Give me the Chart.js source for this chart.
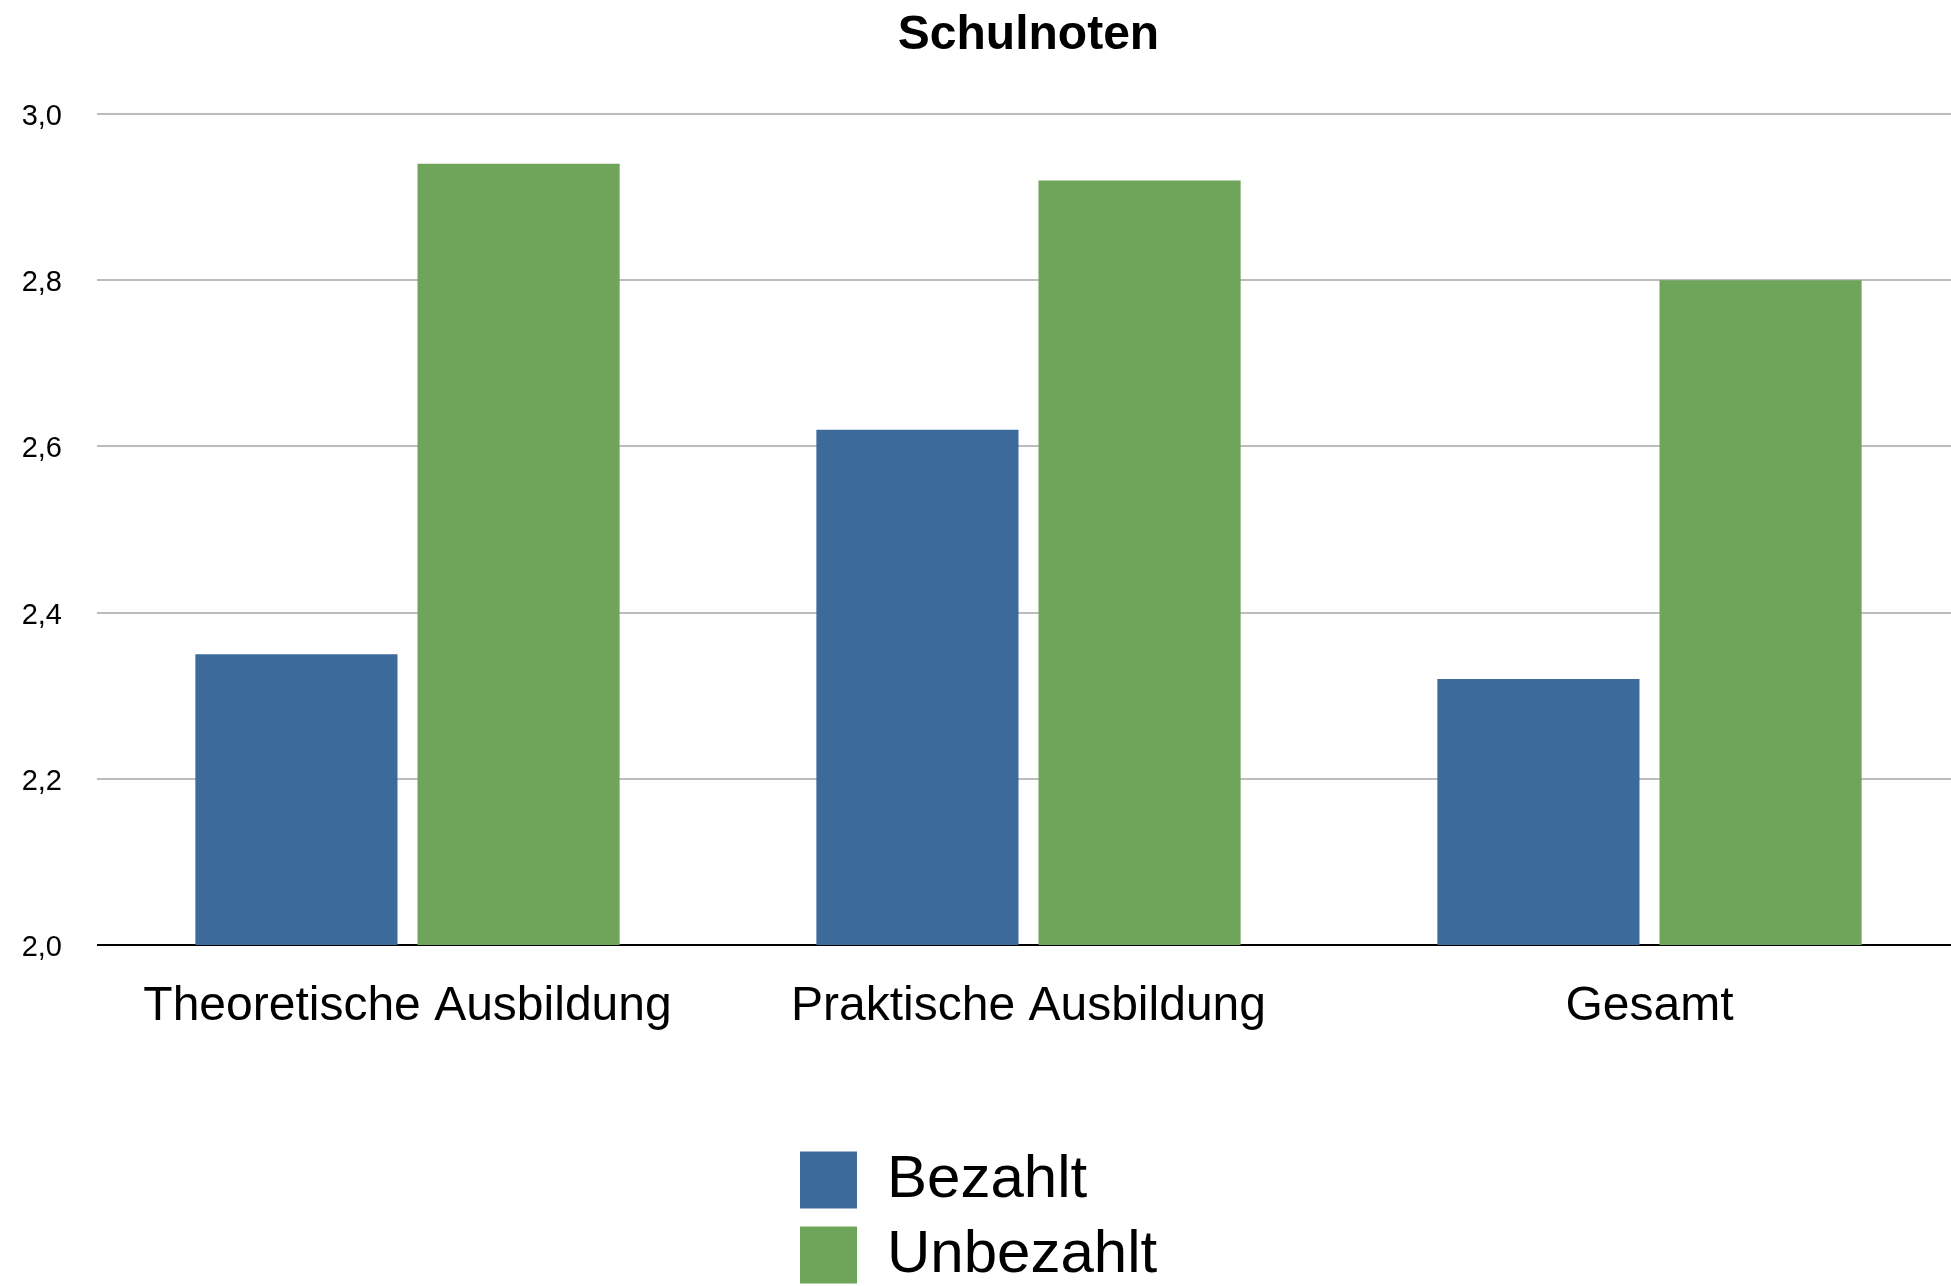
<!DOCTYPE html>
<html>
<head>
<meta charset="utf-8">
<script src="https://cdn.jsdelivr.net/npm/chart.js@4.4.1/dist/chart.umd.min.js"></script>
<style>
  html, body { margin: 0; padding: 0; background: #fff; overflow: hidden; }
  canvas { display: block; }
</style>
</head>
<body>
<canvas id="c" width="1960" height="1295"></canvas>
<script>
// ---- data ----
const chartTitle = 'Schulnoten';
const categories = ['Theoretische Ausbildung', 'Praktische Ausbildung', 'Gesamt'];
const seriesNames = ['Bezahlt', 'Unbezahlt'];
const bezahlt = [2.35, 2.62, 2.32];
const unbezahlt = [2.94, 2.92, 2.80];
const yTickLabels = ['2,0', '2,2', '2,4', '2,6', '2,8', '3,0'];

// ---- styles ----
const FONT = "'Liberation Sans', Arial, Helvetica, sans-serif";
const LEG_FONT = 60, LEG_BOX = 57, LEG_PAD = 15, LEG_X0 = 800;

// stack legend items vertically (two rows, left aligned)
const legendStack = {
  id: 'legendStack',
  afterLayout(chart) {
    const lg = chart.legend;
    if (!lg || !lg.legendItems || !lg.legendItems.length) return;
    const ctx = chart.ctx;
    ctx.save();
    ctx.font = LEG_FONT + 'px ' + FONT;
    const widths = lg.legendItems.map(it => LEG_BOX + LEG_FONT / 2 + ctx.measureText(it.text).width);
    ctx.restore();
    const L = Math.max(...widths) + LEG_PAD;
    lg.lineWidths = lg.legendItems.map(() => L);
    const H = chart.height;
    const lh = Math.max(LEG_FONT, LEG_BOX) + LEG_PAD;
    const h = lg.legendItems.length * lh + 10;
    lg.left = LEG_X0 - LEG_PAD;
    lg.right = LEG_X0 + L;
    lg.width = lg.right - lg.left;
    lg.top = H - h;
    lg.bottom = H;
    lg.height = h;
  }
};

new Chart(document.getElementById('c'), {
  type: 'bar',
  data: {
    labels: categories,
    datasets: [
      { label: seriesNames[0], data: bezahlt, backgroundColor: '#3c6b9b', borderWidth: 0,
        categoryPercentage: 0.7154, barPercentage: 0.91 },
      { label: seriesNames[1], data: unbezahlt, backgroundColor: '#6ea55a', borderWidth: 0,
        categoryPercentage: 0.7154, barPercentage: 0.91 }
    ]
  },
  options: {
    responsive: false,
    animation: false,
    events: [],
    devicePixelRatio: 1,
    layout: { padding: { left: 22, right: 0, top: 0, bottom: 0 } },
    plugins: {
      title: {
        display: true,
        text: chartTitle,
        fullSize: false,
        color: '#000',
        font: { family: FONT, size: 48, weight: 'bold', lineHeight: 1.2 },
        padding: { top: 7, bottom: 49.4 }
      },
      legend: {
        display: true,
        position: 'bottom',
        labels: {
          boxWidth: LEG_BOX,
          boxHeight: LEG_BOX,
          padding: LEG_PAD,
          color: '#000',
          font: { family: FONT, size: LEG_FONT }
        }
      },
      tooltip: { enabled: false }
    },
    scales: {
      x: {
        grid: { display: false, drawTicks: false },
        border: { display: false },
        ticks: {
          color: '#000',
          font: { family: FONT, size: 48, lineHeight: 1.2 },
          padding: 33,
          maxRotation: 0,
          autoSkip: false
        },
        afterFit(scale) { scale.height = 265; }
      },
      y: {
        min: 2,
        max: 3,
        grid: {
          drawTicks: false,
          lineWidth: 2,
          color: (c) => (c.tick && c.tick.value === 2) ? '#000000' : '#bcbcbc'
        },
        border: { display: false },
        ticks: {
          stepSize: 0.2,
          color: '#000',
          font: { family: FONT, size: 29 },
          padding: 35,
          labelOffset: 3,
          callback: (v, i) => yTickLabels[i]
        },
        afterFit(scale) { scale.width = 75; }
      }
    }
  },
  plugins: [legendStack]
});
</script>
</body>
</html>
